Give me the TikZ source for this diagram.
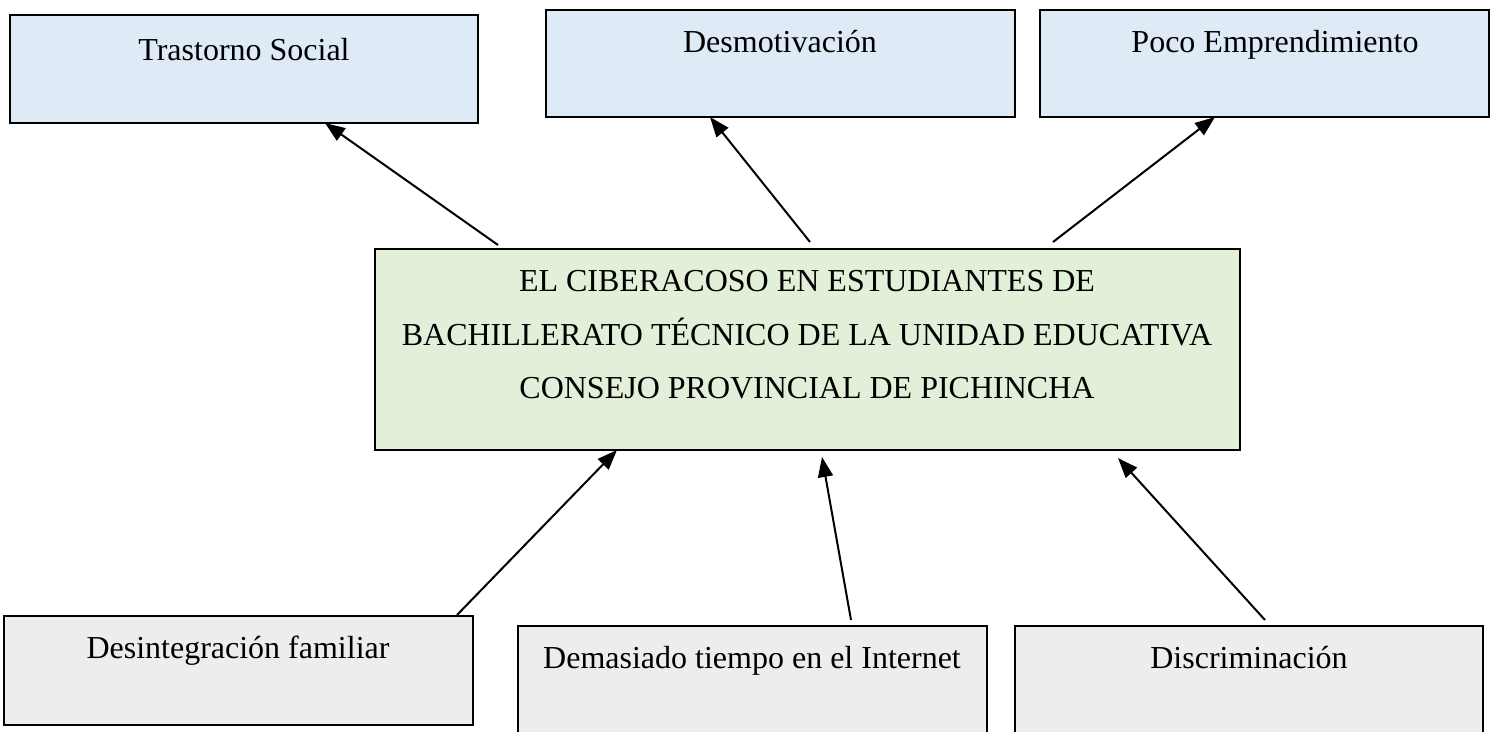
\documentclass[tikz,border=0pt]{standalone}
\usepackage{fontspec}
\setmainfont{Liberation Serif}
\usetikzlibrary{arrows.meta}
\definecolor{topblue}{HTML}{DEEAF6}
\definecolor{midgreen}{HTML}{E2EFD9}
\definecolor{botgray}{HTML}{EDEDED}
\tikzset{
  box/.style={draw=black, line width=1.8pt, rectangle, inner sep=0pt, outer sep=0pt, anchor=north west},
  lbl/.style={anchor=base, inner sep=0pt, font=\fontsize{32}{38}\selectfont},
  arr/.style={line width=2pt, -{Triangle[length=20pt,width=15pt]}}
}
\begin{document}
\begin{tikzpicture}[x=1pt,y=-1pt]
\useasboundingbox (0,0) rectangle (1494,731);
\clip (0,0) rectangle (1494,731);
% top boxes
\node[box, fill=topblue, minimum width=468pt, minimum height=108pt] (b1) at (10,15) {};
\node[box, fill=topblue, minimum width=469pt, minimum height=107pt] (b2) at (546,10) {};
\node[box, fill=topblue, minimum width=449pt, minimum height=107pt] (b3) at (1040,10) {};
\node[lbl] (t1) at (244,60) {Trastorno Social};
\node[lbl] (t2) at (780,52) {Desmotivación};
\node[lbl] (t3) at (1275,52) {Poco Emprendimiento};
% central box
\node[box, fill=midgreen, minimum width=865pt, minimum height=201pt] (c) at (375,249) {};
\node[lbl] (c1) at (807,291) {EL CIBERACOSO EN ESTUDIANTES DE};
\node[lbl] (c2) at (807,345) {BACHILLERATO TÉCNICO DE LA UNIDAD EDUCATIVA};
\node[lbl] (c3) at (807,398) {CONSEJO PROVINCIAL DE PICHINCHA};
% bottom boxes
\node[box, fill=botgray, minimum width=469pt, minimum height=109pt] (d1) at (4,616) {};
\node[box, fill=botgray, minimum width=469pt, minimum height=130pt] (d2) at (518,626) {};
\node[box, fill=botgray, minimum width=468pt, minimum height=130pt] (d3) at (1015,626) {};
\node[lbl] (u1) at (238,658) {Desintegración familiar};
\node[lbl] (u2) at (752,668) {Demasiado tiempo en el Internet};
\node[lbl] (u3) at (1249,668) {Discriminación};
% arrows: central -> effects
\draw[arr] ([xshift=123pt,yshift=4pt]c.north west) -- ([xshift=315pt]b1.south west);
\draw[arr] ([xshift=435pt,yshift=7pt]c.north west) -- ([xshift=164pt]b2.south west);
\draw[arr] ([xshift=678pt,yshift=7pt]c.north west) -- ([xshift=175pt]b3.south west);
% arrows: causes -> central
\draw[arr] ([xshift=453pt,yshift=1pt]d1.north west) -- ([xshift=242pt]c.south west);
\draw[arr] ([xshift=333pt,yshift=6pt]d2.north west) -- ([xshift=447pt,yshift=-7pt]c.south west);
\draw[arr] ([xshift=250pt,yshift=6pt]d3.north west) -- ([xshift=743pt,yshift=-8pt]c.south west);
\end{tikzpicture}
\end{document}
